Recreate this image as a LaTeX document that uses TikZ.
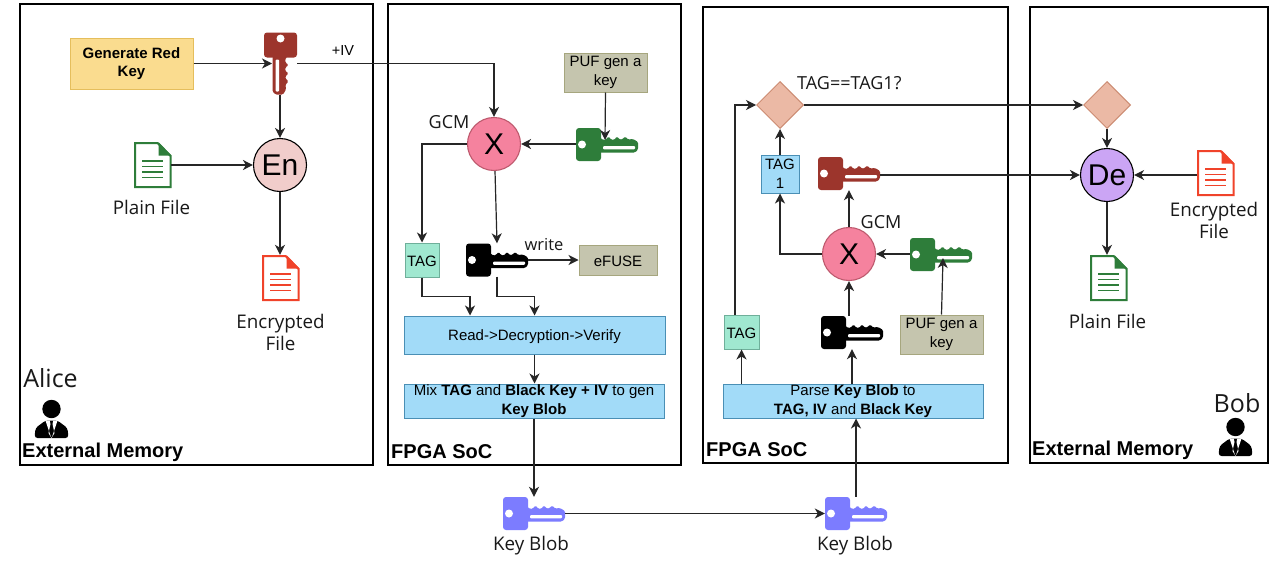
\documentclass[tikz,border=0pt]{standalone}
\usepackage{fontspec}
\setmainfont{Liberation Sans}
\newfontfamily\labfont{Open Sans}
\usetikzlibrary{arrows.meta,calc,shapes.geometric}
\definecolor{keyred}{HTML}{9C352C}
\definecolor{keygreen}{HTML}{2E7D3A}
\definecolor{keyblue}{HTML}{7C7CFF}
\definecolor{filered}{HTML}{F0432A}
\definecolor{pufgray}{HTML}{C5C5AE}
\definecolor{pufedge}{HTML}{A6A67E}
\definecolor{bluefill}{HTML}{A2DBF8}
\definecolor{blueedge}{HTML}{4A8FB5}
\definecolor{tagfill}{HTML}{A0E8D0}
\definecolor{tagedge}{HTML}{6FAF9A}
\definecolor{genfill}{HTML}{FADC8F}
\definecolor{genedge}{HTML}{E5BE5C}
\definecolor{enfill}{HTML}{F1CDCB}
\definecolor{defill}{HTML}{CBA5F5}
\definecolor{xfill}{HTML}{F5829E}
\definecolor{xedge}{HTML}{BE5A6E}
\definecolor{dfill}{HTML}{EBB9A5}
\definecolor{dedge}{HTML}{CD8C73}
\tikzset{
 frame/.style={draw=black,line width=2.2pt,inner sep=0pt},
 conn/.style={line width=1.2pt,draw=black!85,-{Stealth[length=10pt,width=10pt,inset=3pt]}},
 boxtxt/.style={font=\fontsize{15}{18.5}\selectfont,align=center,inner sep=0pt,text=black,execute at begin node={\rule{0pt}{13.5pt}}},
 pufbox/.style={boxtxt,draw=pufedge,fill=pufgray,line width=1pt},
 bluebox/.style={boxtxt,draw=blueedge,fill=bluefill,line width=1pt},
 tagbox/.style={boxtxt,draw=tagedge,fill=tagfill,line width=1pt},
 hold/.style={inner sep=0pt,minimum width=62pt,minimum height=33pt},
 vhold/.style={inner sep=0pt,minimum width=33pt,minimum height=62pt},
 fhold/.style={inner sep=0pt,minimum width=37pt,minimum height=46pt},
 phold/.style={inner sep=0pt,minimum width=33pt,minimum height=38pt},
 circ/.style={circle,draw=#1,line width=1.1pt,inner sep=0pt,minimum size=53pt,font=\fontsize{30}{32}\selectfont},
 diam/.style={diamond,aspect=1,draw=dedge,fill=dfill,line width=1pt,inner sep=0pt,minimum size=47pt},
 lab/.style={font=\labfont\fontsize{18.8}{22}\selectfont,align=center,inner sep=0pt,text=black!90},
 gcmlab/.style={font=\labfont\fontsize{18}{20}\selectfont,align=center,inner sep=0pt,text=black!90},
 biglab/.style={font=\labfont\fontsize{25}{28}\selectfont,inner sep=0pt,text=black!90},
 titl/.style={font=\bfseries\fontsize{20}{24}\selectfont,inner sep=0pt,anchor=west,text=black},
 pics/hkey/.style={code={
  \fill[#1,rounded corners=3pt] (-31,-16.5) rectangle (-6,16.5);
  \fill[#1,rounded corners=1.2pt] (-7,-7) -- (-4,-4.5) -- (-1,-5) -- (1.5,-8) -- (4,-5) -- (7,-4.5) -- (10,-8) -- (13,-4.8) -- (15,-5) -- (18,-8) -- (21,-5) -- (26,-5.5) -- (31,-2.5) -- (31,5) -- (28,8) -- (-7,8) -- cycle;
  \fill[white] (-25,0) circle (4);
  \fill[white,rounded corners=1pt] (-4,1.5) rectangle (28,4.8);
 }},
 pics/filedoc/.style={code={
  \draw[#1,line width=2pt,line join=miter] (-17.5,-22) -- (5,-22) -- (18,-9) -- (18,22) -- (-17.5,22) -- cycle;
  \fill[#1] (6,-23) -- (19,-9.5) -- (6,-9.5) -- cycle;
  \foreach \yy in {-4,1.5,7,12.5} \draw[#1,line width=1.9pt] (-10.5,\yy) -- (10.5,\yy);
 }},
 pics/person/.style={code={
  \fill[black] (0,-10) circle (9.2);
  \fill[black,rounded corners=3pt] (-17,19) -- (-16,9) -- (-6,1.5) -- (6,1.5) -- (16,9) -- (17,19) -- cycle;
  \fill[white] (-6,1.5) -- (-1.8,1.5) -- (-1,5) -- (-3,14) -- (0,19) -- (3,14) -- (1,5) -- (1.8,1.5) -- (6,1.5) -- (0,19.5) -- cycle;
 }},
}
\begin{document}
\begin{tikzpicture}[x=1pt,y=-1pt]
\useasboundingbox (0,0) rectangle (1276,562);
\fill[white] (0,0) rectangle (1276,562);
% frames
\node[frame,minimum width=353pt,minimum height=461pt] (f1) at (196.5,234.5) {};
\node[frame,minimum width=293pt,minimum height=461pt] (f2) at (534.5,234.5) {};
\node[frame,minimum width=305pt,minimum height=456pt] (f3) at (855.5,235) {};
\node[frame,minimum width=238pt,minimum height=456pt] (f4) at (1149,235) {};
% Alice side
\node[boxtxt,font=\bfseries\fontsize{15}{18.5}\selectfont,draw=genedge,fill=genfill,line width=1pt,minimum width=123pt,minimum height=51pt] (gen) at (131.5,63.5) {Generate Red\\Key};
\node[vhold] (rk1) at (280.5,63.5) {};
\pic[rotate=-90] at (rk1) {hkey=keyred};
\node[circ=black,fill=enfill] (en) at (280,165) {En};
\node[fhold] (pf1) at (152.5,165) {};
\pic at (pf1) {filedoc=keygreen};
\node[lab] (pf1l) at (151.5,207) {Plain File};
\node[fhold] (ef1) at (280.5,278) {};
\pic at (ef1) {filedoc=filered};
\node[lab] (ef1l) at (280.5,332) {Encrypted\\File};
\node[biglab] (alice) at (50.5,378) {Alice};
\node[phold] (p1) at (51.5,419) {};
\pic at (p1) {person};
\node[titl] (t1) at (22,452) {External Memory};
\node[font=\fontsize{14.5}{16}\selectfont,inner sep=0pt] (iv) at (343,51) {+IV};
% SoC 1
\node[circ=xedge,fill=xfill] (x1) at (494,144) {X};
\node[gcmlab] (gcm1) at (449,122.5) {GCM};
\node[pufbox,minimum width=83pt,minimum height=39pt] (puf1) at (605.5,72.5) {PUF gen a\\key};
\node[hold] (gk1) at (607,144.5) {};
\pic at (gk1) {hkey=keygreen};
\node[tagbox,minimum width=34pt,minimum height=34pt] (tag1) at (422,260) {TAG};
\node[hold] (bk1) at (497,260) {};
\pic at (bk1) {hkey=black};
\node[gcmlab,font=\labfont\fontsize{16.5}{18}\selectfont] (wr) at (544,245) {write};
\node[pufbox,minimum width=78pt,minimum height=30pt] (ef) at (618,260) {eFUSE};
\node[bluebox,minimum width=261pt,minimum height=38pt] (rd) at (534.5,335) {Read->Decryption->Verify};
\node[bluebox,minimum width=260pt,minimum height=34pt] (mix) at (534,401) {Mix \textbf{TAG} and \textbf{Black Key + IV} to gen\\\textbf{Key Blob}};
\node[titl] (t2) at (391,452) {FPGA SoC};
% blobs
\node[hold] (b1) at (534,513.5) {};
\pic at (b1) {hkey=keyblue};
\node[lab] (b1l) at (531,546) {Key Blob};
\node[hold] (b2) at (856,513.5) {};
\pic at (b2) {hkey=keyblue};
\node[lab] (b2l) at (855,546) {Key Blob};
% SoC 2
\node[bluebox,minimum width=260pt,minimum height=34pt] (parse) at (853,401) {Parse \textbf{Key Blob} to\\\textbf{TAG, IV} and \textbf{Black Key}};
\node[tagbox,minimum width=35pt,minimum height=34pt] (tag2) at (741.5,332) {TAG};
\node[hold] (bk2) at (852,332.5) {};
\pic at (bk2) {hkey=black};
\node[pufbox,minimum width=83pt,minimum height=39pt] (puf2) at (941.5,334.5) {PUF gen a\\key};
\node[circ=xedge,fill=xfill] (x2) at (849,254) {X};
\node[hold] (gk2) at (941,254.5) {};
\pic at (gk2) {hkey=keygreen};
\node[gcmlab] (gcm2) at (881,222) {GCM};
\node[hold] (rk2) at (849,173.5) {};
\pic at (rk2) {hkey=keyred};
\node[boxtxt,draw=blueedge,fill=bluefill,line width=1pt,minimum width=38pt,minimum height=38pt] (tag3) at (780,174) {TAG\\1};
\node[diam] (d1) at (780,105) {};
\node[inner sep=0pt,anchor=west,font=\labfont\fontsize{18}{20}\selectfont,text=black!90] (tt) at (797,83) {TAG==TAG1?};
\node[titl] (t3) at (706,450) {FPGA SoC};
% Bob side
\node[diam] (d2) at (1107,105) {};
\node[circ=black,fill=defill] (de) at (1107,175) {De};
\node[fhold] (ef2) at (1215.5,173) {};
\pic at (ef2) {filedoc=filered};
\node[lab] (ef2l) at (1214,220) {Encrypted\\File};
\node[fhold] (pf2) at (1108.5,278) {};
\pic at (pf2) {filedoc=keygreen};
\node[lab] (pf2l) at (1107.5,321) {Plain File};
\node[biglab] (bob) at (1237,403) {Bob};
\node[phold] (p2) at (1235.5,437) {};
\pic at (p2) {person};
\node[titl] (t4) at (1032,450) {External Memory};
% free ends
\coordinate (rk1in) at (272,63.5);
\coordinate (gk1in) at (605,140);
\coordinate (gk2in) at (943,258);
\coordinate (ivc) at (494,63.5);
% connectors
\draw[conn] (gen.east) -- (rk1in);
\draw[conn] (rk1.south -| en) -- (en.north);
\draw[conn] (pf1.east) -- (en.west);
\draw[conn] (en.south) -- (ef1.north -| en);
\draw[conn] (rk1.east) -- (ivc) -- (x1.north);
\draw[conn] (puf1.south) -- (gk1in);
\draw[conn] (gk1.west |- x1) -- (x1.east);
\draw[conn] (x1.west) -- (x1.west -| tag1) -- (tag1.north);
\draw[conn] ([xshift=1]x1.south) -- (bk1.north);
\draw[conn] (bk1.east) -- (ef.west);
\draw[conn] (tag1.south) -- ++(0,19) -| ([xshift=-64.5]rd.north);
\draw[conn] (bk1.south) -- ++(0,20) -| (rd.north);
\draw[conn] (rd.south) -- (rd.south |- mix.north);
\draw[conn] (mix.south) -- (b1.north);
\draw[conn] (b1.east) -- (b2.west);
\draw[conn] (b2.north) -- (b2.north |- parse.south);
\draw[conn] (parse.north -| tag2) -- (tag2.south);
\draw[conn] (parse.north -| bk2) -- (bk2.south);
\draw[conn] (bk2.north -| x2) -- (x2.south);
\draw[conn] (puf2.north) -- (gk2in);
\draw[conn] (gk2.west |- x2) -- (x2.east);
\draw[conn] (x2.west) -| (tag3.south);
\draw[conn] (x2.north) -- (rk2.south);
\draw[conn] (tag3.north) -- (d1.south);
\draw[conn] ([xshift=-6.5]tag2.north) |- (d1.west);
\draw[conn] (d1.east) -- (d2.west);
\draw[conn] (d2.south) -- (de.north);
\draw[conn] (rk2.east |- de) -- (de.west);
\draw[conn] (ef2.west |- de) -- (de.east);
\draw[conn] (de.south) -- (pf2.north -| de);
\end{tikzpicture}
\end{document}
